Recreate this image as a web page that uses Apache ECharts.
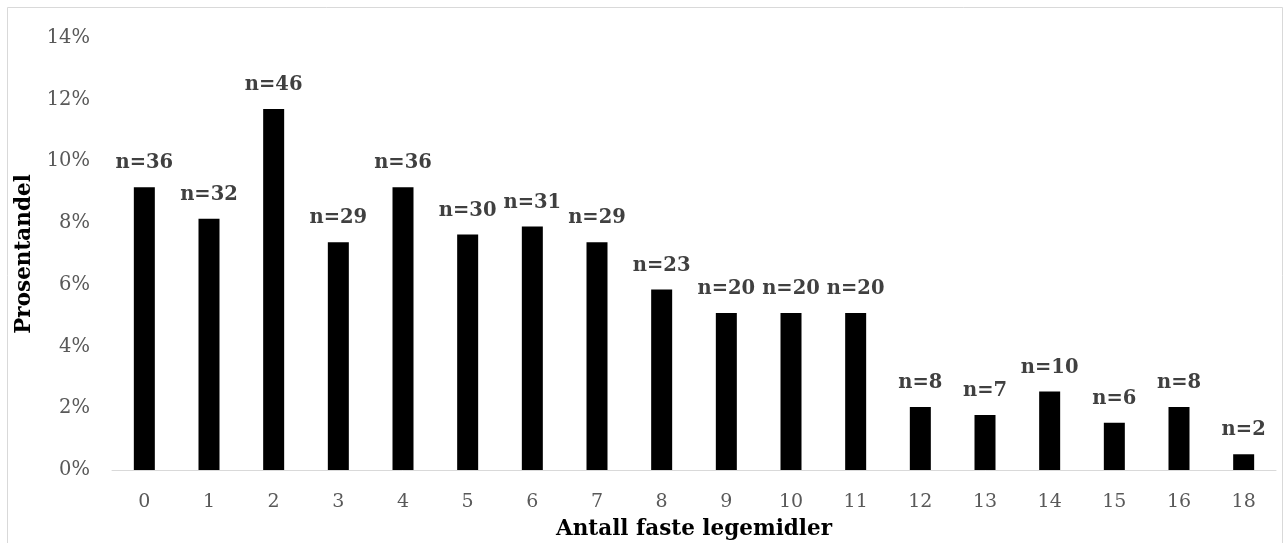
<!DOCTYPE html>
<html><head><meta charset="utf-8">
<script src="https://cdn.jsdelivr.net/npm/echarts@6/dist/echarts.min.js"></script>
<style>html,body{margin:0;padding:0;background:#fff}#c{width:1285px;height:543px}</style>
</head><body><div id="c"></div>
<script>
var categories = ['0','1','2','3','4','5','6','7','8','9','10','11','12','13','14','15','16','18'];
var percentValues = [9.16, 8.14, 11.70, 7.38, 9.16, 7.63, 7.89, 7.38, 5.85, 5.09, 5.09, 5.09, 2.04, 1.78, 2.54, 1.53, 2.04, 0.51];
var countLabels = [36, 32, 46, 29, 36, 30, 31, 29, 23, 20, 20, 20, 8, 7, 10, 6, 8, 2];
var yTicks = [0, 2, 4, 6, 8, 10, 12, 14];

var font = 'DejaVu Serif';
var chart = echarts.init(document.getElementById('c'));
chart.setOption({
  animation: false,
  backgroundColor: '#fff',
  graphic: [{type:'rect', shape:{x:7.5,y:7.5,width:1275,height:545}, style:{fill:'none', stroke:'#d9d9d9', lineWidth:1}, silent:true}],
  grid: {left:112, right:9, top:38, bottom:73, containLabel:false, outerBoundsMode:'none'},
  xAxis: {
    type:'category', data: categories,
    name:'Antall faste legemidler', nameLocation:'middle', nameGap:48,
    nameTextStyle:{fontFamily:font, fontWeight:'bold', fontSize:21.5, color:'#000'},
    axisLine:{lineStyle:{color:'#d9d9d9', width:1}},
    axisTick:{show:false},
    axisLabel:{fontFamily:font, fontSize:19, color:'#595959', margin:23}
  },
  yAxis: {
    type:'value', min:0, max:14, interval:2,
    name:'Prosentandel', nameLocation:'middle', nameGap:69, nameRotate:90,
    nameTextStyle:{fontFamily:font, fontWeight:'bold', fontSize:21.5, color:'#000'},
    splitLine:{show:false}, axisLine:{show:false}, axisTick:{show:false},
    axisLabel:{fontFamily:font, fontSize:19.5, color:'#595959', margin:22,
      formatter:function(v){ return yTicks.indexOf(v) >= 0 ? v + '%' : ''; }}
  },
  series: [{
    type:'bar', data: percentValues, barWidth:21,
    itemStyle:{color:'#000'},
    label:{show:true, position:'top', distance:14, fontFamily:font, fontWeight:'bold', fontSize:19.5, color:'#404040',
      formatter:function(p){ return 'n=' + countLabels[p.dataIndex]; }}
  }]
});
</script></body></html>
